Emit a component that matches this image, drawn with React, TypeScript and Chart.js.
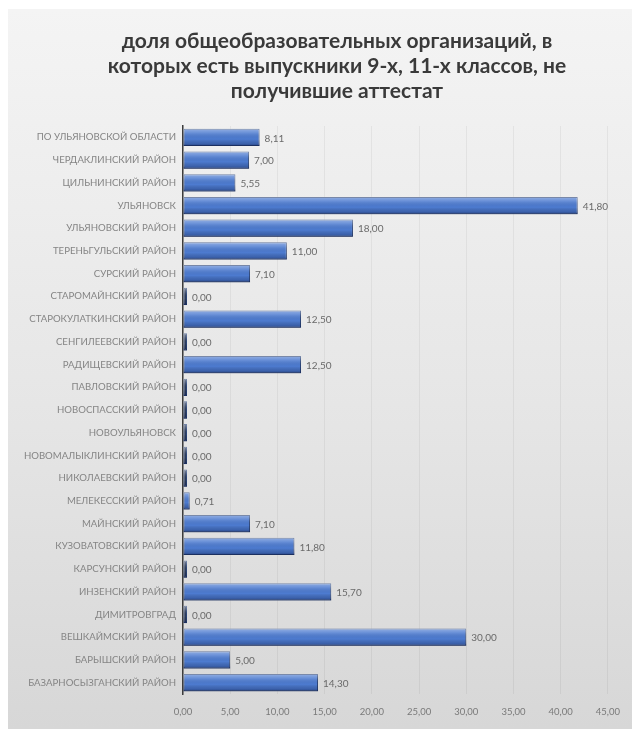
import React, { useEffect, useRef } from "react";
import { Chart, registerables } from "chart.js";

Chart.register(...registerables);

const titleLines = [
  "доля общеобразовательных организаций, в",
  "которых есть выпускники 9-х, 11-х классов, не",
  "получившие аттестат",
];

const categories = [
  "ПО УЛЬЯНОВСКОЙ ОБЛАСТИ",
  "ЧЕРДАКЛИНСКИЙ РАЙОН",
  "ЦИЛЬНИНСКИЙ РАЙОН",
  "УЛЬЯНОВСК",
  "УЛЬЯНОВСКИЙ РАЙОН",
  "ТЕРЕНЬГУЛЬСКИЙ РАЙОН",
  "СУРСКИЙ РАЙОН",
  "СТАРОМАЙНСКИЙ РАЙОН",
  "СТАРОКУЛАТКИНСКИЙ РАЙОН",
  "СЕНГИЛЕЕВСКИЙ РАЙОН",
  "РАДИЩЕВСКИЙ РАЙОН",
  "ПАВЛОВСКИЙ РАЙОН",
  "НОВОСПАССКИЙ РАЙОН",
  "НОВОУЛЬЯНОВСК",
  "НОВОМАЛЫКЛИНСКИЙ РАЙОН",
  "НИКОЛАЕВСКИЙ РАЙОН",
  "МЕЛЕКЕССКИЙ РАЙОН",
  "МАЙНСКИЙ РАЙОН",
  "КУЗОВАТОВСКИЙ РАЙОН",
  "КАРСУНСКИЙ РАЙОН",
  "ИНЗЕНСКИЙ РАЙОН",
  "ДИМИТРОВГРАД",
  "ВЕШКАЙМСКИЙ РАЙОН",
  "БАРЫШСКИЙ РАЙОН",
  "БАЗАРНОСЫЗГАНСКИЙ РАЙОН",
];

const values = [
  8.11, 7.0, 5.55, 41.8, 18.0, 11.0, 7.1, 0.0, 12.5, 0.0, 12.5, 0.0, 0.0, 0.0,
  0.0, 0.0, 0.71, 7.1, 11.8, 0.0, 15.7, 0.0, 30.0, 5.0, 14.3,
];

const axisMin = 0;
const axisMax = 45;
const axisStep = 5;

const fmt = (v: number) => v.toFixed(2).replace(".", ",");

const barShadePlugin = {
  id: "barShade",
  afterDatasetDraw(chart: any, args: any) {
    const ctx = chart.ctx;
    const meta = args.meta;
    meta.data.forEach((el: any) => {
      const p = el.getProps(["x", "y", "base", "height"], true);
      const left = Math.min(p.x, p.base);
      const right = Math.max(p.x, p.base);
      const top = p.y - p.height / 2;
      const h = p.height;
      if (right - left < 1) return;
      const g = ctx.createLinearGradient(0, top, 0, top + h);
      g.addColorStop(0, "rgba(255,255,255,0.4)");
      g.addColorStop(0.25, "rgba(255,255,255,0.15)");
      g.addColorStop(0.6, "rgba(0,0,0,0)");
      g.addColorStop(0.85, "rgba(10,25,70,0.25)");
      g.addColorStop(1, "rgba(10,25,70,0.55)");
      ctx.save();
      ctx.fillStyle = g;
      ctx.fillRect(left, top, right - left, h);
      ctx.restore();
    });
  },
};

const dataLabelPlugin = {
  id: "dataLabels",
  afterDatasetsDraw(chart: any) {
    const ctx = chart.ctx;
    const meta = chart.getDatasetMeta(0);
    const ds = chart.data.datasets[0].data as number[];
    ctx.save();
    ctx.font = "10px Lato";
    ctx.fillStyle = "#6a6a6a";
    ctx.textAlign = "left";
    ctx.textBaseline = "middle";
    meta.data.forEach((el: any, i: number) => {
      const p = el.getProps(["x", "y"], true);
      ctx.fillText(fmt(ds[i]), p.x + 5, p.y + 1);
    });
    ctx.restore();
  },
};

export default function App() {
  const ref = useRef<HTMLCanvasElement | null>(null);

  useEffect(() => {
    if (!ref.current) return;
    const chart = new Chart(ref.current, {
      type: "bar",
      data: {
        labels: categories,
        datasets: [
          {
            data: values,
            backgroundColor: (c: any) =>
              c.raw === 0 ? "#2c3b5a" : "#4d7bd0",
            borderColor: "#2b4478",
            borderWidth: 1,
            borderSkipped: false,
            minBarLength: 4,
            categoryPercentage: 0.76,
            barPercentage: 1,
          },
        ],
      },
      options: {
        indexAxis: "y",
        animation: false,
        responsive: false,
        maintainAspectRatio: false,
        layout: { padding: { left: 0, right: 21, top: 117, bottom: 0 } },
        plugins: {
          legend: { display: false },
          tooltip: { enabled: false },
          title: { display: false },
        },
        scales: {
          x: {
            min: axisMin,
            max: axisMax,
            ticks: {
              stepSize: axisStep,
              color: "#7a7a7a",
              font: { family: "Lato", size: 9.5 },
              padding: 12,
              callback: (v: any) => fmt(Number(v)),
            },
            grid: {
              color: "rgba(0,0,0,0.05)",
              drawTicks: false,
            },
            border: { display: false },
            afterFit: (s: any) => {
              s.height = 35;
            },
          },
          y: {
            ticks: {
              color: "#858585",
              font: { family: "Lato", size: 9.6 },
              padding: 7,
              autoSkip: false,
            },
            grid: { display: false, drawTicks: false },
            border: { display: true, color: "#3c3c3c", width: 1.5 },
            afterFit: (s: any) => {
              s.width = 175;
            },
          },
        },
      },
      plugins: [barShadePlugin, dataLabelPlugin],
    });
    return () => chart.destroy();
  }, []);

  return (
    <div
      style={{
        position: "absolute",
        left: 8,
        top: 9,
        width: 624,
        height: 720,
        background: "linear-gradient(to bottom, #f4f4f4 0%, #e6e6e6 55%, #d7d7d7 100%)",
      }}
    >
      <canvas ref={ref} width={624} height={720} style={{ display: "block" }} />
      <div
        style={{
          position: "absolute",
          left: 19,
          top: 18,
          width: 620,
          textAlign: "center",
          fontFamily: "Lato",
          fontWeight: 700,
          fontSize: 21,
          lineHeight: "25px",
          color: "#3a3a3a",
        }}
      >
        {titleLines.map((t, i) => (
          <div key={i}>{t}</div>
        ))}
      </div>
    </div>
  );
}
